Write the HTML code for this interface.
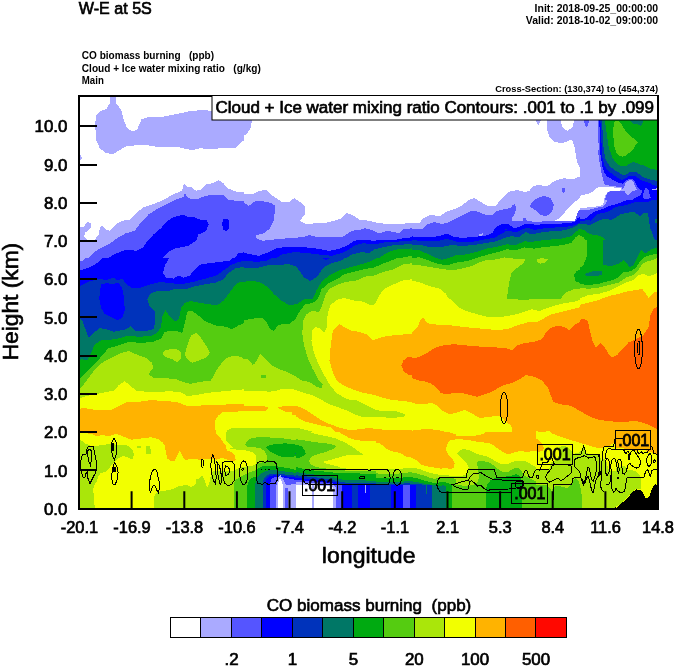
<!DOCTYPE html>
<html lang="en">
<head>
<meta charset="utf-8">
<title>W-E at 5S - CO biomass burning cross-section</title>
<style>
html,body{margin:0;padding:0;background:#fff;}
body{width:674px;height:667px;overflow:hidden;}
svg{display:block;}
text{font-family:"Liberation Sans",Arial,Helvetica,sans-serif;fill:#000;}
.t16{font-size:15.8px;stroke:#000;stroke-width:.65px;}
.t21{font-size:22.3px;stroke:#000;stroke-width:.6px;}
.sm{font-size:10.3px;font-weight:bold;}
.xs{font-size:9.3px;font-weight:bold;}
.tk{stroke:#000;stroke-width:2;fill:none;}
.lab{font-size:16px;stroke:#000;stroke-width:.8px;}
</style>
</head>
<body>
<svg width="674" height="667" viewBox="0 0 674 667">
<rect x="0" y="0" width="674" height="667" fill="#fff"/>
<defs>
<!--DEFS-->
</defs>
<clipPath id="plotclip"><rect x="79" y="96" width="579" height="413"/></clipPath>
<g id="fill" clip-path="url(#plotclip)">
<clipPath id="c0"><rect x="76" y="92" width="168" height="166"/></clipPath>
<clipPath id="c1"><rect x="244" y="92" width="168" height="166"/></clipPath>
<clipPath id="c2"><rect x="412" y="92" width="168" height="166"/></clipPath>
<clipPath id="c3"><rect x="580" y="92" width="80" height="68"/></clipPath>
<clipPath id="c4"><rect x="580" y="160" width="80" height="80"/></clipPath>
<clipPath id="c5"><rect x="590" y="150" width="70" height="50"/></clipPath>
<clipPath id="c6"><rect x="76" y="258" width="168" height="166"/></clipPath>
<clipPath id="c7"><rect x="244" y="258" width="168" height="166"/></clipPath>
<clipPath id="c8"><rect x="412" y="258" width="168" height="166"/></clipPath>
<clipPath id="c9"><rect x="412" y="230" width="168" height="69"/></clipPath>
<clipPath id="c10"><rect x="580" y="240" width="80" height="166"/></clipPath>
<clipPath id="c11"><rect x="244" y="424" width="168" height="86"/></clipPath>
<clipPath id="c12"><rect x="412" y="424" width="168" height="86"/></clipPath>
<clipPath id="c13"><rect x="580" y="406" width="80" height="26"/></clipPath>
<clipPath id="c14"><rect x="244" y="400" width="168" height="50"/></clipPath>
<clipPath id="c15"><rect x="76" y="412" width="110" height="98"/></clipPath>
<clipPath id="c16"><rect x="186" y="412" width="110" height="98"/></clipPath>
<clipPath id="c17"><rect x="226" y="432" width="70" height="78"/></clipPath>
<clipPath id="c18"><rect x="296" y="432" width="80" height="78"/></clipPath>
<clipPath id="c19"><rect x="376" y="432" width="80" height="78"/></clipPath>
<clipPath id="c20"><rect x="456" y="432" width="80" height="78"/></clipPath>
<clipPath id="c21"><rect x="536" y="432" width="80" height="78"/></clipPath>
<clipPath id="c22"><rect x="616" y="432" width="44" height="78"/></clipPath>
<clipPath id="c23"><rect x="196" y="448" width="60" height="61"/></clipPath>
<g clip-path="url(#c0)" shape-rendering="crispEdges">
<rect x="76" y="92" width="168" height="166" fill="#ffffff"/>
<polygon fill="#aaaaff" points="109.8,95.8 109.8,103.2 106.5,109 99.8,111.5 96,115.8 95.2,124.5 96,139.5 99.8,148.2 106,153.2 113.5,154 119.8,150 126,146.5 136,145.2 146,145 161,147.5 176,146.5 186,149 192.2,150 201,148.2 208.5,149.5 221,148.2 236,147.5 246,138.2 246,107 212.2,107 212.2,110.8 201,110 188.5,111.5 176,114 161,117 148.5,117 141.5,119.5 137.2,129.5 133,131.5 127.2,128.2 123.5,119.5 121,109.5 116,103.2 116,95.8"/>
<polygon fill="#aaaaff" points="79,154.5 81,155.8 82.2,158.2 80.5,160.2 79,161"/>
<polygon fill="#aaaaff" points="76,228.2 83.5,227 87.2,222 90.5,223.2 90.5,228.2 85.5,232.5 84,237 87.2,240 94.8,239.5 99,234.5 99.8,228.2 102.2,225.8 106,229.5 109.8,230.8 117.2,223.2 122.2,220.8 129.8,219.5 137.2,212 143.5,207.5 148.5,205.8 158.5,202 168.5,197 176,193.2 182.2,190.8 184,183.2 187.2,186.5 191,187 196,190.8 201,189.5 206,184.5 212.2,183.2 218.5,180 223.5,183.2 227.2,188.2 236,191.5 246,192 246,267 76,267"/>
<polygon fill="#5555ff" points="87.2,259.5 96,250.8 101,248.2 108.5,244.5 117.2,238.2 126,233.2 134.8,230.8 141,222 148.5,214.5 158.5,208.2 168.5,203.2 176,199.5 183.5,197 184.8,193.2 188.5,198.2 196,199.5 206,195.8 216,194.5 223.5,195 228.5,199.5 236,200.8 246,201.5 246,267 76,267"/>
<polygon fill="#0000ff" points="106,259.5 113.5,254.5 126,249.5 136,250.8 143.5,247 148.5,239.5 153.5,234.5 161,228.2 166,222 173.5,217 183.5,214.5 187.2,216.5 193.5,217 201,220 206,219.5 208.5,224.5 206,230.8 198.5,234.5 196,240.8 188.5,245.8 176,248.2 168.5,252 161,259.5"/>
<polygon fill="#0000ff" points="223,219.5 228,218.5 229.2,222 229,229 226,231.2 223,229.5 222.2,223.2"/>
<polygon fill="#0000ff" points="233.5,259.5 238.5,253.2 246,252 246,259.5"/>
</g>
<g clip-path="url(#c1)" shape-rendering="crispEdges">
<rect x="244" y="92" width="168" height="166" fill="#ffffff"/>
<polygon fill="#aaaaff" points="241.5,138.2 247,133.2 250.2,129.5 252,120.2 241.5,120.2"/>
<polygon fill="#aaaaff" points="241.5,194 251.5,194.5 259,190.8 266.5,190 270.2,194 276.5,198.2 281.5,202 290.2,201.5 294,198.2 300.2,202 304.5,205.8 304.5,214.5 300.2,220.8 304,223.2 310.2,224.5 316.5,222.5 324,223.2 334,220.8 341.5,218.2 346.5,212.8 354,215.8 359,219.5 369,220.8 379,223.2 389,224 399,224.5 406.5,223.2 414,222.5 414,267 241.5,267"/>
<polygon fill="#5555ff" points="241.5,201.5 249,205.8 255.2,201.2 262.8,201.2 271.5,203.2 275.2,205.8 274,219.5 270.2,228.2 264,233.2 256.5,235 256,238.2 262.8,240.8 274,239.5 289,238.2 304,237 309,235 316.5,237 329,237.5 341.5,237 346.5,234.5 351.5,230.8 359,230 365.2,228.2 371.5,230 379,233.2 387.8,230.8 394,232 399,233.2 404,229 414,228.2 414,267 241.5,267"/>
<polygon fill="#0000ff" points="241.5,252.5 259,255.8 269,252 276.5,248.2 289,246.5 301.5,247 314,248.2 329,250.8 339,249 349,244.5 354,240.8 361.5,239.5 374,240.8 384,239.5 394,240 404,238.2 414,237 414,267 241.5,267"/>
<polygon fill="#0033bb" points="274,259.5 281.5,254.5 294,252 309,253.2 319,254.5 331.5,255.8 341.5,253.2 349,249.5 355.2,245 364,243.2 374,244.5 386.5,242 399,241.5 414,240.8 414,267"/>
<polygon fill="#007766" points="344,259.5 351.5,254.5 361.5,252 369,253.2 374,249.5 384,247 394,245 404,244.5 414,243.2 414,267"/>
<polygon fill="#00aa11" points="376.5,259.5 384,254.5 391.5,250.8 399,249 406.5,249 414,248.2 414,267"/>
<polygon fill="#55cc11" points="400.2,259.5 404,257 414,255.8 414,267"/>
</g>
<g clip-path="url(#c2)" shape-rendering="crispEdges">
<rect x="412" y="92" width="168" height="166" fill="#ffffff"/>
<polygon fill="#aaaaff" points="535.8,120.2 540.8,120.2 538.2,125.8"/>
<polygon fill="#aaaaff" points="546.5,120.2 547,129.5 549.5,137 554.5,142 562,143.2 572,139.5 574.5,147 577,162 582,172.5 582,120.2 574.5,120.2 572,128.2 567,130.8 562,127 560.8,120.2"/>
<polygon fill="#aaaaff" points="409.5,222.5 419.5,223.2 423.2,218.2 430.8,214.5 439.5,216.5 445.8,212 453.2,209.5 462,205.8 468.2,200 474.5,198.2 480.8,202 487,205.8 495.8,205.8 502,198.2 508.2,192 517,190 524.5,192 529.5,190.8 533.2,185.8 539.5,185 547,186.5 554.5,180.8 564.5,178.2 572,179.5 582,175.8 582,267 409.5,267"/>
<polygon fill="#ffffff" points="550.8,222.2 559.8,218.2 567.2,209.5 574.8,202 582,196 582,208.2 578.5,210.8 576,217 574.8,222.2"/>
<polygon fill="#5555ff" points="409.5,228.5 422,229.5 427,224.5 434.5,222 442,224 449.5,222 457,218.2 464.5,214.5 470.8,210.8 477,211.5 484.5,214.5 492,215 496.5,211.2 503,209.5 511.2,208 512.8,204.8 515.2,203.8 516,209.5 514.5,214.5 512,217.8 512,221 522.8,221 523.5,217.5 526,217.8 526.8,221 535.8,221.8 548.8,221.2 574.8,221.2 576,217 578.5,210.8 582,208.2 582,267 409.5,267"/>
<polygon fill="#5555ff" points="530.8,203.2 537,198.2 544.5,195.8 550.8,198.2 554,204.5 552,212 545.8,216.5 539.5,214.5 534.5,209.5 530,207"/>
<polygon fill="#5555ff" points="561.5,187.5 564.5,187.5 565.2,190.8 563.2,193.2 561.5,190.8"/>
<polygon fill="#0000ff" points="409.5,237 427,238.2 439.5,237 447,234.5 453.2,237 462,237.5 474.5,236.5 487,236.5 491.5,233.2 494,229.5 497,226.5 503,223.8 508,224.2 514.5,228.2 519.5,226.8 524.2,224.2 529.2,223.5 535.8,225 542.2,224.2 552,223.5 561.8,223.5 571.5,222.8 575.8,221.2 577.5,218.2 582,215.8 582,267 409.5,267"/>
<polygon fill="#0033bb" points="409.5,241.5 424.5,242.5 437,242 449.5,239.5 462,242 474.5,241.5 484.5,240.8 492,239.5 495.8,234 499.8,230.8 506.2,229.2 512.8,231.5 517.8,232.5 522.8,229.2 527.5,227.5 534,230 539,229.2 547.2,227.8 555.2,227.5 563.5,227.2 571.5,226 578.2,223.5 583,222 582,267 409.5,267"/>
<polygon fill="#aaaaff" points="479,235 483.2,234.5 483.2,236.5 479.5,236.8"/>
<polygon fill="#007766" points="409.5,244.5 427,245.8 442,247 457,243.2 469.5,244.5 482,243.2 494.5,242 504.5,238.2 512,235.8 519.5,237 527,233.2 537,234.5 547,232 557,230.8 567,229.5 574.5,227 582,222 582,267 409.5,267"/>
<polygon fill="#00aa11" points="409.5,249 424.5,249 437,248.2 449.5,249 462,247.5 474.5,248.2 487,246.5 497,245 507,242 517,243.2 527,239.5 537,240.8 547,239 557,238.2 567,235.8 574.5,232 582,227 582,267 409.5,267"/>
<polygon fill="#55cc11" points="409.5,255.8 424.5,254.5 437,252 449.5,252.5 462,252 474.5,253.2 487,251.5 499.5,249.5 512,247.5 524.5,245 537,245.8 549.5,244 562,243.2 572,240.8 577,234.5 582,230.8 582,267 409.5,267"/>
<polygon fill="#aae60a" points="469.5,259.5 482,257 494.5,256.5 504.5,257.5 512,259.5"/>
</g>
<g clip-path="url(#c3)" shape-rendering="crispEdges">
<rect x="580" y="92" width="80" height="68" fill="#aaaaff"/>
<polygon fill="#ffffff" points="575.9,120.2 573,126.1 568.5,129.1 568.5,120.2"/>
<polygon fill="#ffffff" points="568.5,143.9 573,146.9 575.2,154.3 576.7,163.2 578.9,172.9 568.5,172.9"/>
<polygon fill="#5555ff" points="584.1,120.2 589.3,120.2 587.8,125.4 586.3,127.6 584.8,124.6"/>
<polygon fill="#5555ff" points="598.2,120.2 598.2,136.5 598.9,151.3 599.7,163.2 601.2,172.9 673.9,172.9 673.9,120.2"/>
<polygon fill="#0000ff" points="599.4,120.2 599.7,136.5 600.4,151.3 601.5,163.2 603.4,172.9 673.9,172.9 673.9,120.2"/>
<polygon fill="#0033bb" points="600.4,120.2 601.2,136.5 601.9,151.3 603.4,161.7 606.4,169.2 608.6,172.9 673.9,172.9 673.9,120.2"/>
<polygon fill="#007766" points="601.9,120.2 602.9,136.5 603.8,151.3 605.6,158.8 609.3,166.2 613,170.6 614.5,172.9 673.9,172.9 673.9,120.2"/>
<polygon fill="#00aa11" points="604.9,120.2 607.1,136.5 608.9,148.4 610.8,155.8 613.8,161.7 617.5,165.4 621.9,166.2 626.4,164.7 630.8,162.5 635.3,161.7 639.7,163.2 644.2,165.4 650.1,167.7 653.1,169.2 673.9,168.4 673.9,120.2"/>
<polygon fill="#007766" points="630.1,120.2 633.8,123.9 638.2,124.3 640.5,126.4 642,123.9 643.4,120.2"/>
<polygon fill="#55cc11" points="614.5,121.7 617.5,120.9 620.4,122.4 623.4,127.6 626.4,132.1 629.3,135 633.8,138.7 638,142.4 635.3,145.4 632.3,151.3 628.6,155.1 623.4,157 619,156.5 616,152.8 614.5,146.9 613.3,136.5 613.3,127.6"/>
</g>
<g clip-path="url(#c4)" shape-rendering="crispEdges">
<rect x="580" y="160" width="80" height="80" fill="#aaaaff"/>
<polygon fill="#ffffff" points="560,160 576.3,160 577.8,167.4 580,173.4 576.3,177.1 571.9,179 565.9,178.5 560,177.1"/>
<polygon fill="#ffffff" points="560,215.6 563,211.9 567.4,209 568.9,203.8 573.4,199.3 577.8,196.4 583.7,194.9 589.7,193.4 594.1,189.7 597.8,187.2 603,186.7 609,187.4 616.4,188.2 622.3,188.9 619.3,191.2 611.9,191.5 607.5,191.9 605.3,194.9 604.5,200.1 603,204.5 600.1,206 594.1,206.7 586.7,207.5 577.8,207.5 576.3,211.9 575.6,216.4 574.8,220.8 560,221.1"/>
<polygon fill="#5555ff" points="599.3,158.5 600.1,165.9 601.5,171.9 603,177.8 603.8,184.5 609,187.4 622.3,188.9 619.3,191.2 611.9,191.5 609.7,191.9 608.2,197.1 606.3,203 603.8,206.3 597.1,207.8 589.7,209.7 577.8,210.4 576.3,216.4 575.6,221.1 560,221.4 560,249 663.9,249 663.9,158.5"/>
<polygon fill="#aaaaff" points="622.3,188.9 625.3,182.3 629,180.8 632.7,181.1 634.2,184.5 637.2,188.9 632.7,190.4 630.5,193.4 627.5,195.9 625.3,191.9 619.3,191.5"/>
<polygon fill="#0000ff" points="601.5,158.5 603,165.9 604.5,171.9 607.5,176.3 613.4,180.8 619.3,184.5 623.8,184.5 626,180.8 631.2,179 634.9,180.8 637.2,184.5 640.9,188.9 643.1,188.2 645.3,186.7 649,188.9 652.7,188.2 657.2,187.4 663.9,187.4 663.9,158.5"/>
<polygon fill="#0000ff" points="663.9,191.9 652,191.9 650.8,197.1 647.5,199.3 643.1,198.6 641.6,193.4 638.6,191.9 634.2,194.9 631.2,198.6 625.3,200.8 619.3,203 614.9,204.5 609,206 603,209 595.6,211.2 589.7,214.9 586.7,217.9 583.7,219.3 579.3,218.6 577.1,221.1 560,222.3 560,249 663.9,249"/>
<polygon fill="#5555ff" points="642.3,191.9 644.6,188.2 647.5,188.2 649.8,192.6 650.5,197.1 647.5,198.9 643.8,198.3 642.3,195.6"/>
<polygon fill="#aaaaff" points="652,188.9 657.2,188.2 657.2,190.4 653.5,190.4"/>
<polygon fill="#0033bb" points="603.8,158.5 606,164.5 609,168.9 614.9,172.6 620.8,176.3 625.3,176.3 629.7,174.1 634.2,172.6 638.6,174.1 643.1,177.8 649,182.3 655,183.7 657.9,182.3 663.9,182.3 663.9,158.5"/>
<polygon fill="#0033bb" points="663.9,199.3 652,200.1 647.5,202.3 641.6,201.5 634.2,202.3 628.2,204.5 622.3,206 616.4,206.7 610.4,210.4 604.5,212.7 597.1,214.2 593.4,217.9 590.4,220.8 588.2,219.3 583.7,220.8 579.3,221.6 574.8,223.1 567.4,223.8 560,224.5 560,249 663.9,249"/>
<polygon fill="#007766" points="606,158.5 609,163 614.9,167.4 620.8,171.1 625.3,173.4 629.7,171.1 634.2,168.9 640.1,170.4 644.6,173.4 650.5,177.1 655,178.5 657.9,177.8 663.9,177.8 663.9,158.5"/>
<polygon fill="#007766" points="560,228.2 567.4,227.5 573.4,226 577.8,223.8 583.7,223.8 589.7,225.3 595.6,222.3 600.1,220.1 606,218.6 610.4,220.1 614.9,217.9 620.8,214.2 626.8,212.7 634.2,211.9 640.1,216.4 643.1,213.4 647.5,212.7 649,219.3 649.8,226.8 652.7,234.2 655,240.9 560,240.9"/>
<polygon fill="#007766" points="655,219.1 656.7,218.6 656.7,223.1 655,222.6"/>
<polygon fill="#00aa11" points="612.7,158.5 616.4,162.2 620.8,165.9 625.3,166.7 629.7,164.5 634.2,162.2 640.1,163.7 646.1,166.7 652,168.9 657.9,168.2 663.9,168.2 663.9,158.5"/>
<polygon fill="#00aa11" points="568.9,240.9 571.9,235.7 574.8,231.2 579.3,229 583.7,229.7 586.7,232.7 592.6,234.9 600.1,235.7 604.5,238.6 606,240.9"/>
<polygon fill="#55cc11" points="574.8,240.9 576.3,237.2 580.8,235.7 583.7,237.2 585.2,240.9"/>
</g>
<g clip-path="url(#c5)" shape-rendering="crispEdges">
<rect x="590" y="150" width="70" height="50" fill="#aaaaff"/>
<polygon fill="#ffffff" points="589,192.8 593.1,192.1 595.2,188.9 598.3,187.4 603.5,186.9 610.8,187.2 618,187.9 622.2,188.9 620.1,190.5 616,191.3 610.8,191 607.7,192.1 605.6,194.7 604.5,197.8 604,200.9 589,200.9"/>
<polygon fill="#5555ff" points="597.8,149 598.3,154.2 599.3,160.4 600.4,166.6 601.4,172.8 603,179.1 604,183.7 606.6,185.3 611.8,185.8 617,186.6 622.2,187.6 622.2,188.9 620.1,190.5 616,191.3 610.8,191 607.7,192.1 605.6,194.7 604.5,197.8 604,200.9 662.7,200.9 662.7,149"/>
<polygon fill="#aaaaff" points="624.3,186.9 625.8,182.2 627.9,180.6 631.5,180.1 633.1,181.2 634.1,184.3 635.7,187.4 637.2,189.5 634.7,190.5 631.5,191.5 629.5,193.6 627.9,195.7 626.3,194.1 624.8,191.5 622.7,190.7 620.1,190.7 616,191.5 610.8,191.2 608.2,192.4 606.6,194.7 605.6,197.8 605.1,200.9 604,200.9 604.5,197.8 605.6,194.7 607.7,192.1 610.8,191 616,191.3 620.1,190.5 622.2,188.9 623.2,187.9"/>
<polygon fill="#0000ff" points="599.9,149 600.4,154.2 601.4,160.4 602.5,166.6 604,172.3 606.6,176 610.8,178.6 614.9,181.2 619.1,183.2 623.2,183.7 625.3,181.2 627.4,179.6 631.5,178.9 634.1,180.1 635.7,183.2 637.2,186.3 639.3,188.9 641.4,190 641.9,191.5 640.9,194.7 637.8,196.7 633.6,198.8 631.5,200.9 662.7,200.9 662.7,149"/>
<polygon fill="#5555ff" points="643,197.8 643.5,192.6 645,188.4 647.1,187.9 648.7,190.5 649.7,194.7 650.7,197.8 648.2,198.8 645,198.8"/>
<polygon fill="#aaaaff" points="652.3,189.3 656.5,188.4 657,190 653.3,190.5"/>
<polygon fill="#0033bb" points="601.4,149 601.9,154.2 603,160.4 604.5,165.6 607.1,169.7 610.8,172.8 614.9,176 619.1,178.6 622.2,180.1 625.3,178.6 628.4,176.5 632.6,175.8 635.7,176.5 638.8,178.6 641.9,180.6 646.1,181.7 650.2,183.2 653.3,185.3 656.5,185.8 662.7,185.8 662.7,149"/>
<polygon fill="#007766" points="604,149 604.5,154.2 605.6,159.3 607.7,163.5 610.8,167.1 614.9,170.2 619.1,172.8 623.2,175.4 626.3,174.4 629.5,172.3 633.6,171.6 636.7,172.3 639.8,174.4 643,177 647.1,178.6 651.3,180.1 655.4,180.6 662.7,180.1 662.7,149"/>
<polygon fill="#00aa11" points="609.7,149 610.8,153.1 612.3,157.3 614.9,161.4 618,164.5 621.2,166.1 624.3,166.6 627.4,165.1 630.5,163 633.6,161.9 636.7,163 639.8,164.5 644,165.6 648.2,167.7 652.3,169.2 656.5,169.7 662.7,169.2 662.7,149"/>
<polygon fill="#55cc11" points="614.9,149 616.5,152.6 619.1,155.7 622.2,156.7 625.3,155.7 628.4,153.6 631.5,151 633.1,149"/>
</g>
<g clip-path="url(#c6)" shape-rendering="crispEdges">
<rect x="76" y="258" width="168" height="166" fill="#0000ff"/>
<polygon fill="#5555ff" points="76,256.8 103.5,256.8 97.2,263 91,266.8 86,268.5 79,271 76,271.8"/>
<polygon fill="#aaaaff" points="76,256.8 86.5,256.8 83.5,260.5 79,261.5 76,261.5"/>
<polygon fill="#5555ff" points="169.8,256.8 164.8,265.5 163,273 166,277.5 173.5,278.5 178.5,275.5 183.5,277.5 189.8,275.5 194.8,269.2 201,264.2 211,263 221,261.8 229.8,260.5 233.5,256.8"/>
<polygon fill="#0033bb" points="73.5,289.2 81,285.5 88.5,281.8 97.2,279.2 101,278.5 104.8,280.5 108.5,279.2 113.5,277.5 117.2,280.5 122.2,278.5 126,284.2 132.2,288 141,287.5 151,284.2 161,281.8 168.5,283 181,284.2 193.5,281.8 206,278.5 216,275.5 223.5,270.5 231,265 238.5,261.8 246,261 246,433 73.5,433"/>
<polygon fill="#0000ff" points="101,284.2 107.2,283 111,284.2 118.5,283 122.2,288 124,298 124.8,310.5 122.2,318 117.2,320.5 111,316.8 104.8,314.2 101,308 99.2,298"/>
<polygon fill="#007766" points="73.5,315.5 79,318 82.2,320.5 86,330.5 88.5,337.5 93.5,333 99.8,328 106,329.2 113.5,331.8 126,329.2 131,326 134.8,330.5 146,331 153.5,329.2 155.5,320.5 154.8,311.8 149.8,306.8 147.2,299.2 151,293 158.5,290.5 168.5,291 176,288.5 186,289.2 196,286 206,284.2 216,282.5 223.5,279.2 228.5,273 236,268 246,266.8 246,433 73.5,433"/>
<polygon fill="#00aa11" points="73.5,363 82.2,359.2 87.2,360.5 91,353 94.8,344.2 101,340.5 108.5,340 118.5,338.5 128.5,335.5 138.5,336.8 151,336 157.2,333 161,326.8 162.2,316.8 165.5,310 169.8,316.8 174.8,321.8 179,319.2 181,308 184.8,303 189.8,301 198.5,302.5 208.5,304.2 217.2,305.5 223.5,300.5 231,290.5 237.2,283 246,281 246,433 73.5,433"/>
<polygon fill="#55cc11" points="73.5,380.5 81,378 87.2,371.8 93.5,365.5 101,356.8 108.5,348 118.5,345.5 128.5,341.8 141,343 153.5,341.8 161,338.5 164.8,331.8 174.8,330.5 182.2,333 185.5,320.5 187.2,311.8 191.5,310.5 198.5,315.5 206,321.8 216,325.5 226,326.8 232.2,329.2 238.5,325.5 246,321.8 246,433 73.5,433"/>
<polygon fill="#aae60a" points="73.5,390.5 81,388 88.5,378 96,368 103.5,361.8 111,358 121,353 128.5,351 136,354.2 146,358 152.2,363 153,368 148.5,374.2 153.5,377.5 163.5,378 176,379.2 186,383 191,383.8 201,381.8 211,380.5 214.8,373 219.8,365.5 226,358 233.5,355.5 241,356.8 246,360.5 246,433 73.5,433"/>
<polygon fill="#aae60a" points="162.2,353 166,350 174.8,348.5 181,351.8 181,358 177.2,362.5 172.2,359.2 164.8,356.8"/>
<polygon fill="#aae60a" points="184.8,354.2 187.2,345.5 191,335.5 196,333 201,338 206,345.5 209.8,353 206,357.5 198.5,360.5 192.2,363 187.2,359.2"/>
<polygon fill="#f2ff00" points="73.5,400.5 83.5,396.8 91,395 101,393 113.5,390.5 118.5,385.5 124.8,381 129.8,385.5 136,390.5 146,391.8 158.5,391.8 171,391.2 181,392.5 187.2,396 196,395 206,393 218.5,391.8 231,390.5 246,389.2 246,433 73.5,433"/>
<polygon fill="#ffb300" points="73.5,410 83.5,408 91,409.2 101,410.5 111,410 119.8,405.5 126,402.5 138.5,401.8 151,400 163.5,401 176,401.8 186,405.5 196,406 206,405 218.5,405 231,404.2 246,403.5 246,433 73.5,433"/>
<polygon fill="#f2ff00" points="216,425.5 218.5,418 223.5,414.2 231,412.5 246,410.5 246,425.5"/>
</g>
<g clip-path="url(#c7)" shape-rendering="crispEdges">
<rect x="244" y="258" width="168" height="166" fill="#0033bb"/>
<polygon fill="#0000ff" points="241.5,256.8 274,256.8 266.5,261 256.5,261.8 241.5,260.5"/>
<polygon fill="#0000ff" points="319,256.8 331.5,256.8 326.5,260"/>
<polygon fill="#007766" points="241.5,267.5 256.5,268 266.5,265.5 276.5,265 289,264.2 296.5,266.8 300.2,271.8 304,277.5 310.2,281 315.2,278 319,274.2 324,266.8 331.5,263 341.5,260.5 346.5,256.8 414,256.8 414,433 241.5,433"/>
<polygon fill="#00aa11" points="241.5,281.8 254,281 261.5,283 269,288 274,294.2 281.5,300.5 289,305 296.5,304.2 304,299.2 312.8,298.5 316.5,290.5 321.5,281.8 329,275.5 339,270.5 349,267.5 361.5,264.2 371.5,261 379,256.8 414,256.8 414,433 241.5,433"/>
<polygon fill="#55cc11" points="241.5,320.5 254,318.5 261.5,317.5 266.5,322.5 270.2,329.2 274,331 277.8,325.5 284,323.5 290.2,323.5 295.2,319.2 300.2,310.5 305.2,304.2 312.8,303 317.8,299.2 321.5,289.2 329,283 339,278 344,274.2 354,271.8 364,269.2 374,267.5 381.5,264.2 391.5,260.5 399,256.8 414,256.8 414,433 241.5,433"/>
<polygon fill="#aae60a" points="414,263 404,264.2 394,269.2 384,271.8 374,275.5 364,276.8 356.5,280.5 346.5,281.8 336.5,285 329,289.2 325.2,295.5 321.5,306.8 319,311.8 311.5,311 306.5,314.2 303.5,320.5 302.2,333 304,345.5 307.8,358 312.8,369.2 319,380.5 322.8,384.2 321.5,388 316.5,386.8 309,381.8 301.5,380.5 294,375.5 286.5,371.8 279,369.2 271.5,365.5 265.2,359.2 260.2,354.2 255.2,363 252.8,365 247.8,359.2 241.5,358 241.5,433 414,433"/>
<polygon fill="#55cc11" points="261,375 266,375 266,377.5 261,377.5"/>
<polygon fill="#f2ff00" points="414,279.2 404,280 394,284.2 384,289.2 379,295.5 375.2,304.2 371.5,305.5 364,301.8 354,300.5 344,298 336.5,300 330.2,305.5 327.8,313 326.5,328 324,333 319,328 315.2,326.8 312,330.5 311.5,340.5 314,353 319,365.5 325.2,376.8 330.2,385.5 336.5,393 344,397.5 354,401.8 364,405 374,407.5 384,409.2 394,411 404,414.2 414,413"/>
<polygon fill="#f2ff00" points="241.5,391 251.5,390.5 259,390.5 269,391.8 276.5,390.5 284,388.5 291.5,388.8 301.5,392 311.5,395 321.5,399.5 331.5,405 341.5,408 351.5,411.8 361.5,415 369,416.8 379,417.5 389,418 396.5,418.5 404,417.5 407.8,415.5 414,415.5 414,433 241.5,433"/>
<polygon fill="#ffb300" points="332.8,330.5 339,324.2 344,326.8 351.5,330.5 359,331.8 366.5,334.2 372.8,340.5 379,338 386.5,336 396.5,335 406.5,334.2 414,334.2 414,403 404,401.8 394,400.5 384,398 374,395 364,393 354,390 344,385.5 337.8,381.8 334,375.5 331.5,368 329.5,360.5 330.2,350.5 331.5,340.5"/>
<polygon fill="#ff5f00" points="414,356.8 407.8,356.8 403.5,360.5 401.5,365.5 404,371.8 409,375 414,375.5"/>
<polygon fill="#ffb300" points="241.5,405.5 254,406 264,406.8 269,408 266.5,410 256.5,410.5 241.5,411"/>
<polygon fill="#ffb300" points="277.8,408 284,406 294,405 304,407.5 311.5,413 319,416.8 326.5,420.5 331.5,423 334,425.5 306.5,425.5 301.5,420.5 294,415.5 286.5,411.8 280.2,410.5"/>
</g>
<g clip-path="url(#c8)" shape-rendering="crispEdges">
<rect x="412" y="258" width="168" height="166" fill="#aae60a"/>
<polygon fill="#55cc11" points="510.8,269.2 508.2,283 507,290.5 508.2,295.5 514.5,299.2 524.5,300 537,298.5 549.5,299.2 562,298 567,293 572,290.5 582,288 582,256.8 524.5,256.8 517,265.5"/>
<polygon fill="#f2ff00" points="409.5,280 419.5,281.8 427,285.5 437,289.2 445.8,294.2 452,300.5 458.2,306.8 465.8,311 477,314.2 487,316.8 497,317.5 507,316 517,314.2 524.5,311.8 532,309.2 539.5,311 547,308 554.5,305.5 564.5,303 574.5,301.8 582,299.2 582,433 409.5,433"/>
<polygon fill="#ffb300" points="409.5,334.2 417,328 420.8,319.2 423.2,317.5 427,323 432,324.2 442,325 452,325.5 462,326.8 474.5,328 487,329.2 497,330 507,329.2 517,325.5 527,322.5 537,321.8 544.5,318 552,314.2 562,311.8 572,309.2 582,306.8 582,433 409.5,433"/>
<polygon fill="#ff5f00" points="409.5,359.2 419.5,356.8 427,353 434.5,348 444.5,345 454.5,344.2 467,345.5 482,346.8 497,347.5 507,348.5 512,350 517,345.5 524.5,343 534.5,341.8 542,339.2 545.8,333 550.8,328 557,326 564.5,326.8 569.5,330.5 575.8,324.2 582,320.5 582,413 577,409.2 569.5,405.5 559.5,404.2 553.2,401.8 550.8,395.5 548.2,388 542,380.5 534.5,376.8 525.8,375 519.5,379.2 512,383 504.5,385 498.2,388 492,391.8 484.5,394.2 477,396.8 469.5,395 462,393 454.5,393 447,394.2 440.8,393 437,388 432,384.2 427,381.8 419.5,380.5 409.5,377.5"/>
<polygon fill="#f2ff00" points="409.5,403 422,404.2 432,403 437,405.5 442,410.5 449.5,414.2 457,412.5 464.5,410 472,413.5 479.5,418 489.5,416.8 500,415.5 504.5,420.5 509.5,425.5 409.5,425.5"/>
</g>
<g clip-path="url(#c9)" shape-rendering="crispEdges">
<rect x="412" y="230" width="168" height="69" fill="#5555ff"/>
<polygon fill="#0000ff" points="409.5,236.2 422,237.4 431.9,236.9 439.4,236.2 446.9,233.7 454.4,236.9 461.9,237.9 474.3,236.9 486.8,235.4 493,232.4 495.5,226.2 504.2,223 511.7,225.5 516.7,227.5 524.2,223.7 529.1,222 536.6,222.5 551.6,222 574,222 581.5,220 581.5,314.7 409.5,314.7"/>
<polygon fill="#aaaaff" points="478.8,233.9 483,233.4 483,235.4 479.3,235.7"/>
<polygon fill="#0033bb" points="409.5,239.9 424.5,241.2 436.9,241.2 446.9,238.7 456.9,241.9 469.3,242.4 481.8,239.9 494.3,237.9 501.7,233.7 506.7,230.5 516.7,232.4 524.2,228 531.6,229.5 541.6,227.5 551.6,226.2 561.6,225.5 571.5,225 581.5,221.2 581.5,314.7 409.5,314.7"/>
<polygon fill="#007766" points="409.5,244.4 422,245.4 431.9,247.4 441.9,246.9 451.9,244.9 461.9,246.2 474.3,244.9 486.8,242.9 496.7,241.2 504.2,237.9 511.7,236.2 519.2,237.4 525.4,231.9 531.6,234.4 541.6,232.4 551.6,231.2 561.6,230.5 571.5,228.7 581.5,223.7 581.5,314.7 409.5,314.7"/>
<polygon fill="#00aa11" points="409.5,249.9 419.5,250.4 427,253.6 434.4,257.4 441.9,259.9 449.4,257.9 456.9,254.9 466.8,254.4 476.8,251.9 486.8,248.6 496.7,246.9 506.7,244.4 516.7,244.9 524.2,241.2 531.6,241.9 541.6,240.4 551.6,239.4 561.6,238.7 571.5,236.2 576.5,231.2 581.5,228.7 581.5,314.7 409.5,314.7"/>
<polygon fill="#55cc11" points="409.5,257.9 419.5,257.4 427,259.9 436.9,263.6 446.9,265.3 456.9,262.4 466.8,261.1 476.8,257.9 486.8,254.9 496.7,252.4 506.7,249.4 516.7,249.9 524.2,247.4 534.1,248.6 544.1,246.9 554.1,246.2 564,244.9 571.5,242.9 575.3,237.4 581.5,233.7 581.5,314.7 409.5,314.7"/>
<polygon fill="#aae60a" points="409.5,264.9 419.5,265.3 429.4,266.8 439.4,268.6 451.9,270.3 461.9,268.6 471.8,266.1 479.3,262.4 486.8,259.9 496.7,259.4 504.2,257.4 514.2,258.6 525.4,259.4 522.9,263.6 517.9,267.3 511.7,272.3 509.7,279.8 508,289.8 506.7,301 409.5,301"/>
<polygon fill="#aae60a" points="536.6,259.4 541.6,257.9 547.8,259.4 545.3,262.4 540.4,263.6 537.1,261.9"/>
<polygon fill="#aae60a" points="581.5,288.5 574,289.3 566.5,292.3 561.6,297.3 560.3,301 581.5,301"/>
<polygon fill="#00aa11" points="581.5,268.6 576.5,271.1 574,274.8 575.3,281.1 581.5,283.5"/>
<polygon fill="#f2ff00" points="409.5,280.3 419.5,282.3 429.4,286 439.4,288.5 445.6,293.5 449.4,299.7 409.5,299.7"/>
</g>
<g clip-path="url(#c10)" shape-rendering="crispEdges">
<rect x="580" y="240" width="80" height="166" fill="#00aa11"/>
<polygon fill="#007766" points="603.5,237.5 603,252.5 603.5,265 611,266.2 618.5,263.8 623.5,260 627.2,263.8 629.8,267.5 633.5,265 637.2,257.5 641,250 644.8,253.8 648.5,251.2 652.2,248.8 661,247.5 661,237.5"/>
<polygon fill="#007766" points="584.8,273.8 593.5,271.2 602.2,270.5 602.2,275 593.5,276.2 586,275.5"/>
<polygon fill="#55cc11" points="587.2,237.5 587.2,255 583.5,265 576,271.2 573.5,277.5 578.5,283.8 588.5,285 598.5,283.8 608.5,281.2 616,278.8 623.5,272.5 631,271.2 636,267.5 641,260 646,256.2 651,255 661,252.5 661,415 503.5,415 503.5,237.5"/>
<polygon fill="#aae60a" points="503.5,301.2 516,300 531,300 543.5,298.8 556,297 568.5,290 578.5,287.5 588.5,288.8 598.5,287.5 608.5,285 618.5,282.5 626,277.5 633.5,275 638.5,270 642.2,263.8 647.2,261.2 653.5,260 658,257.5 661,256.2 661,415 503.5,415"/>
<polygon fill="#f2ff00" points="503.5,317.5 516,315 523.5,311.2 531,309.5 541,311.2 548.5,307.5 558.5,303.8 568.5,302.5 578.5,298.8 588.5,295 598.5,293.8 608.5,291.2 618.5,286.2 626,282.5 633.5,280 638.5,275 643.5,273.8 648.5,276.2 653.5,275 661,271.2 661,415 503.5,415"/>
<polygon fill="#ffb300" points="503.5,330 513.5,326.2 521,322.5 531,321.2 541,320.5 548.5,315 556,311.2 568.5,307.5 578.5,305 588.5,302.5 598.5,300 608.5,296.2 618.5,293.8 628.5,291.2 636,290 642.2,288.8 646,293.8 648.5,297.5 653.5,292.5 661,291.2 661,415 503.5,415"/>
<polygon fill="#ff5f00" points="503.5,350 513.5,348.8 518.5,343.8 526,342 536,341.2 543.5,335 548.5,328.8 556,326.2 562.2,327 567.2,330.5 572.2,326.2 577.2,320.5 583.5,318.8 588,321.2 589.8,330 592.2,340 596,347.5 600.5,342.5 604.8,347.5 608.5,353.8 612.2,357.5 617.2,355 623.5,347.5 628.5,342.5 636,338.8 643.5,335 648.5,327.5 650.5,315 653.5,308.8 661,305.5 661,415 503.5,415"/>
<polygon fill="#ffb300" points="503.5,383.8 516,380 523.5,375 531,375 538.5,377.5 543.5,383.8 548.5,390 551,397.5 554.8,402.5 563.5,405 571,407.5 503.5,407.5"/>
</g>
<g clip-path="url(#c11)" shape-rendering="crispEdges">
<rect x="244" y="424" width="168" height="86" fill="#f2ff00"/>
<polygon fill="#ffb300" points="241.5,404.8 256.5,405.5 269,407.2 266.5,409.8 254,410.5 241.5,410.5"/>
<polygon fill="#ffb300" points="277.8,406.5 286.5,404.8 296.5,405.5 304,408.5 310.2,413 319,417.2 326.5,420.5 334,423.5 344,426 354,428 364,428.5 374,429 384,429.8 394,430.5 404,429.8 414,429.8 414,457.2 406.5,456 399,453.5 391.5,449.8 384,447.2 376.5,444.8 369,442.2 361.5,439.8 354,438 346.5,435.5 340.2,432.2 332.8,428.5 324,426 316.5,423 309,419.8 301.5,416.5 294,413 285.2,409.8 279,408.5"/>
<polygon fill="#aae60a" points="241.5,428.5 254,429.8 264,429 274,427.2 284,426.5 294,427.2 304,429.8 314,432.2 324,434.8 331.5,437.2 339,440.5 346.5,444.8 354,448.5 359,452.2 362.8,456 356.5,458.5 349,459.8 339,461 329,461.5 323.5,463 329,465.5 339,467.2 349,468.5 359,469.8 369,470.2 379,470.2 389,469.8 399,470.2 414,471 414,521 241.5,521"/>
</g>
<g clip-path="url(#c12)" shape-rendering="crispEdges">
<rect x="412" y="424" width="168" height="86" fill="#ffb300"/>
<polygon fill="#f2ff00" points="409.5,403.5 419.5,403 429.5,404 437,407.2 444.5,413 454.5,413 464.5,409.8 472,413 479.5,417.2 489.5,416.5 499.5,417.2 507,421 512,427.2 512,432.2 504.5,434 492,434.8 479.5,434 467,433.5 457,434 447,432.2 437,429.8 427,429 417,429.8 409.5,431"/>
<polygon fill="#f2ff00" points="409.5,458.5 419.5,459.8 429.5,463.5 439.5,468.5 449.5,469.8 453.2,463.5 449.5,456 446.5,449.8 448.2,443.5 454.5,441 464.5,441.5 474.5,442.2 484.5,443 494.5,444.8 502,448.5 509.5,453.5 517,452.2 524.5,451 532,448.5 538.2,444.8 542,441 537,436 535.8,431 542,432.2 548.2,431 557,433.5 567,434.8 574.5,434 582,434.8 582,521 409.5,521"/>
</g>
<g clip-path="url(#c13)" shape-rendering="crispEdges">
<rect x="580" y="406" width="80" height="26" fill="#ffb300"/>
<polygon fill="#ff5f00" points="503.5,383.5 513.5,381 521,376 528.5,374.8 536,376 543.5,382.2 548.5,391 552.2,399.8 558.5,403.5 568.5,404.8 578.5,409.8 588.5,416 598.5,419.8 608.5,421 618.5,422.2 626,422.2 633.5,420.5 641,422.2 648.5,424.8 658,429.8 661,431 661,343.5 503.5,343.5"/>
</g>
<g clip-path="url(#c14)" shape-rendering="crispEdges">
<rect x="244" y="400" width="168" height="50" fill="#f2ff00"/>
<polygon fill="#ffb300" points="241.5,405.5 254,405.5 263.9,406.2 268.9,408 266.4,410.5 256.5,411.2 241.5,411.2"/>
<polygon fill="#ffb300" points="277.6,407.5 286.4,405.5 295.1,405.5 303.8,408.7 311.3,413.7 318.8,418.7 328.7,423.7 338.7,427.4 348.7,429.9 358.7,429.4 368.6,427.9 378.6,429.4 393.6,429.9 413.5,429.9 413.5,452.3 388.6,452.3 383.6,448.6 376.1,444.9 368.6,441.1 356.2,442.4 348.7,439.9 343.7,436.1 336.2,432.4 331.2,427.4 323.8,426.2 313.8,423.7 303.8,421.2 293.9,415 281.4,410"/>
<polygon fill="#ffb300" points="383.6,398.8 393.6,400 403.5,401.2 413.5,402 413.5,398.8"/>
<polygon fill="#aae60a" points="320,398.8 323.8,401.2 331.2,405 338.7,407.5 348.7,411.2 356.2,415 363.6,417.4 373.6,417.4 383.6,417.4 393.6,417.9 403.5,416.9 406,415 403.5,413.7 396,411.2 391.1,410.5 383.6,411.2 376.1,410 371.1,407.5 363.6,403.7 356.2,400 353.7,398.8"/>
<polygon fill="#aae60a" points="241.5,427.9 254,428.7 263.9,427.9 273.9,426.9 283.9,426.2 293.9,426.9 303.8,429.4 313.8,431.9 323.8,434.9 331.2,437.4 338.7,440.4 346.2,444.4 353.7,448.6 357.4,452.3 241.5,452.3"/>
<polygon fill="#55cc11" points="241.5,441.9 249,439.4 256.5,437.9 268.9,437.4 278.9,438.6 288.9,440.4 301.3,441.9 311.3,443.6 321.3,444.4 331.2,445.4 335.7,447.4 332.5,451.1 241.5,452.3"/>
<polygon fill="#00aa11" points="263.9,447.4 271.4,444.9 281.4,443.6 293.9,444.4 301.3,447.4 305.1,451.1 263.9,451.1"/>
</g>
<g clip-path="url(#c15)" shape-rendering="crispEdges">
<rect x="76" y="412" width="110" height="98" fill="#f2ff00"/>
<polygon fill="#ffb300" points="74.4,430.8 78.9,431.6 85.8,433.2 92.3,434 97.2,436.5 102.1,434.8 108.6,436.5 115.2,434 120.1,434.8 125,437.3 131.5,439.7 138,438.9 144.5,438.1 151.1,437.3 157.6,438.9 162.5,442.2 165,446.3 165.8,452.8 167.4,458.5 170.7,461 174.7,461 177.2,456.1 179.6,450.4 182.1,455.3 184.5,459.3 187,460.1 187,410.4 74.4,410.4"/>
<polygon fill="#aae60a" points="74.4,438.1 78.9,438.9 82.5,441.4 85.8,443.8 92.3,446.3 98.8,445.5 105.4,444.6 111.9,443.8 118.4,445.5 125,444.6 129.9,447.1 133.1,451.2 133.9,455.3 132.3,459.3 128.2,457.7 123.3,456.1 118.4,458.5 115.2,461 111.9,464.2 108.6,469.1 105.4,471.6 100.5,473.2 98,477.3 96.4,482.2 94,485.4 93.1,490.3 94,496.9 94.8,509.9 74.4,509.9"/>
<polygon fill="#aae60a" points="136.4,445.9 141.3,445.9 140.5,447.6 137.2,447.6"/>
<polygon fill="#aae60a" points="146.2,446.3 150.3,446.3 150.8,453.6 146.5,454.1"/>
<polygon fill="#aae60a" points="154.3,509.9 154.3,496.9 156,492.8 160.9,491.2 167.4,490.3 173.9,488.7 178.8,486.3 183.7,485.4 187,484.6 187,509.9"/>
</g>
<g clip-path="url(#c16)" shape-rendering="crispEdges">
<rect x="186" y="412" width="110" height="98" fill="#f2ff00"/>
<polygon fill="#ffb300" points="184.4,410.4 225.2,410.4 218.6,415.3 215.4,420.2 214.6,426.7 216.2,433.2 220.3,438.1 223.5,443 228.4,447.9 233.3,452 235,456.1 234.1,459.3 228.4,457.7 221.9,456.1 215.4,456.9 210.5,457.7 205.6,458.5 200.7,459.3 194.2,458.5 189.3,459.3 184.4,460.1"/>
<polygon fill="#ffb300" points="290.5,410.4 297,410.4 297,415.3 292.9,415.3"/>
<polygon fill="#aae60a" points="184.4,483.8 190.9,487.1 194.2,485.4 199.1,478.9 202.3,476.5 205.6,480.5 208,485.4 210.5,482.2 212.9,479.7 215.4,483.8 221.9,483.8 228.4,483.8 233.3,481.4 238.2,478.1 243.1,476.5 247.2,474.8 297,474.8 297,513.2 184.4,513.2"/>
<polygon fill="#aae60a" points="297,427.5 277.4,428.3 257.8,427.5 238.2,428 230.1,428.6 226.8,430.8 226,434.8 227.6,439.7 230.9,444.6 235,448.7 241.5,451.2 248,452 254.5,452.8 259.4,454.8 263.5,458.5 266,462.6 266.8,467.5 266,474.8 297,474.8"/>
</g>
<g clip-path="url(#c17)" shape-rendering="crispEdges">
<rect x="226" y="432" width="70" height="78" fill="#aae60a"/>
<polygon fill="#f2ff00" points="224.8,439.2 226,440.2 229.6,444 233.2,447.6 238,450 245.2,451 252.4,452.4 255.4,454.8 256,458.4 255,463.2 253,466.8 250.6,470.4 248.8,474 247,478.8 240.4,480.6 235.6,481.2 233.2,483 224.8,483.8"/>
<polygon fill="#ffb300" points="224.8,450 230.8,451 234.4,453.6 235.4,459.6 233.2,461.4 224.8,460.8"/>
<polygon fill="#55cc11" points="245.2,444 247.6,440.4 252.4,438 259.6,437 268,437.4 276.4,438 286,438.6 293.2,439.8 300.4,441.6 307.6,442.6 307.6,510 233.2,510 233.2,486 235.6,481.8 240.4,480 247,478.2 250,472.8 253,468 256,464.4 259.6,462.9 264.4,462 267.4,460.2 266.8,456 265,451.8 261.4,448.6 256,447.4 250,447 245.8,446.4"/>
<polygon fill="#00aa11" points="265.6,447.6 269.2,445.2 276.4,443.8 286,443.4 295.6,444.6 302.8,447.6 304,451.2 300.4,454.8 293.2,456.6 286,457.4 278.8,456 274,453.6 269.2,451.2"/>
<polygon fill="#007766" points="295,453 298,453 298,453.9 295,453.9"/>
<polygon fill="#00aa11" points="247,510 247,484.8 248.2,480 251.2,475.2 254.8,471 258.4,468 263.2,466.2 269.2,465.6 276.4,466.2 283.6,467.4 290.8,468.6 298,470.4 307.6,471.6 307.6,510"/>
<polygon fill="#007766" points="255.4,510 255.4,482.4 256.6,478.8 259,475.2 262,472.8 265.6,471 270.4,470.1 276.4,470.4 283.6,471.3 290.8,472.2 298,473.4 307.6,474 307.6,510"/>
<polygon fill="#0033bb" points="263.2,510 263.2,481.2 264.1,478.2 266.2,475.8 269.2,474.2 274,473.7 280,474 286,474.6 293.2,475.4 300.4,476.1 307.6,476.6 307.6,510"/>
<polygon fill="#0000ff" points="266.2,510 266.2,480 267.4,477.6 269.8,476.1 274,475.4 280,475.8 286,476.4 293.2,477.3 300.4,478.2 307.6,478.5 307.6,510"/>
<polygon fill="#5555ff" points="270.4,510 270.4,482.4 271.3,479.4 273.4,477.6 277.6,476.6 282.4,477 287.2,478.2 293.2,479.4 298,480 302.8,480.6 307.6,480.6 307.6,510"/>
<polygon fill="#aaaaff" points="276.1,510 276.4,486 277.3,480 278.8,476.6 280.6,475.4 282.4,477.6 284.8,482.4 286,484.8 290.8,484.5 295.6,483.8 298,483.3 302.8,483.3 307.6,483.3 307.6,510"/>
<polygon fill="#ffffff" points="277.8,510 277.8,484.8 279,480.6 280,477.6 281.4,481.2 283,484.8 283.3,510"/>
<polygon fill="#5555ff" points="285.4,510 285.4,488.4 288,487.8 288,510"/>
<polygon fill="#ffffff" points="298,510 298,486 300.4,485 307.6,485 307.6,510"/>
</g>
<g clip-path="url(#c18)" shape-rendering="crispEdges">
<rect x="296" y="432" width="80" height="78" fill="#f2ff00"/>
<polygon fill="#ffb300" points="338,430.8 341.6,433.8 346.4,436.2 348.8,438 353.6,439.4 360.8,440.6 368,441 377.6,440.4 377.6,430.8"/>
<polygon fill="#aae60a" points="294.8,430.8 308,430.8 312.8,433.2 320,435 327.2,436.2 334.4,438 341.6,441 347.6,444 353.6,447.6 358.4,451.2 363.2,454.2 360.8,455.4 356,455.4 351.2,455 346.4,455.4 341.6,456.6 335.6,458.4 329.6,460.2 324.8,461.4 323,462 326,463.4 332,465 336.8,466.2 341.6,468 346.4,468.6 353.6,468.6 360.8,468.6 368,468.9 377.6,468.6 377.6,516 294.8,516"/>
<polygon fill="#55cc11" points="294.8,439.2 300.8,439.8 308,441 315.2,442.2 322.4,443 329.6,443.8 334.4,445 336.2,446.4 334.4,448.2 330.8,450 326,451.8 320,453.6 314,455.4 310.4,457.8 309.2,460.8 310.4,463.8 314,466.2 320,467.7 327.2,468.6 334.4,469.4 341.6,470.4 348.8,470.6 356,470.6 363.2,471 370.4,471 377.6,471 377.6,516 294.8,516"/>
<polygon fill="#00aa11" points="294.8,444.6 298.4,445.2 302,446.4 304.4,450 305.6,453.6 303.2,456 299.6,457.8 294.8,458.4"/>
<polygon fill="#00aa11" points="294.8,466.8 299.6,468 304.4,469.2 309.2,470.1 315.2,470.6 322.4,471.3 329.6,472.2 336.8,472.8 344,473.4 351.2,473.4 358.4,473.4 365.6,474 372.8,474 377.6,474 377.6,516 294.8,516"/>
<polygon fill="#007766" points="294.8,471.6 300.8,472.8 308,473.7 315.2,474.6 322.4,475.4 329.6,476.4 336.8,478.2 341.6,479.4 346.4,480 353.6,480.2 360.8,480.2 368,480.6 377.6,480.6 377.6,516 294.8,516"/>
<polygon fill="#0033bb" points="294.8,475.2 300.8,475.8 308,476.6 315.2,477.3 322.4,478.2 329.6,479.4 336.8,480.9 341.6,482.1 346.4,482.6 353.6,483 360.8,483 368,483.3 377.6,483.3 377.6,516 294.8,516"/>
<polygon fill="#0000ff" points="294.8,477.6 300.8,478.2 308,478.8 315.2,479.4 322.4,480 329.6,481.2 335.6,482.4 340.4,483.8 344,484.8 377.6,484.8 377.6,516 294.8,516"/>
<polygon fill="#5555ff" points="294.8,479.7 300.8,480.2 308,480.9 315.2,481.4 322.4,482.1 329.6,483 334.4,483.8 338,484.8 341.6,485.4 341.6,516 294.8,516"/>
<polygon fill="#aaaaff" points="294.8,482.1 300.8,482.4 308,482.9 315.2,483.3 322.4,483.8 329.6,484.5 334.4,485.4 335.6,487.2 335.6,516 294.8,516"/>
<polygon fill="#ffffff" points="294.8,484.5 300.8,484.8 308,485 315.2,485.4 322.4,485.7 329.6,486.2 333.2,487.2 333.2,516 294.8,516"/>
<polygon fill="#aaaaff" points="311.6,485.4 314,485.4 314,510 311.6,510"/>
<polygon fill="#0033bb" points="352.4,484.8 357.8,484.8 357.8,510 352.4,510"/>
<polygon fill="#0033bb" points="369.8,484.8 377.6,484.8 377.6,510 369.8,510"/>
<polygon fill="#aaaaff" points="365,485.4 365.8,485.4 365.8,492.6 365,492.6"/>
</g>
<g clip-path="url(#c19)" shape-rendering="crispEdges">
<rect x="376" y="432" width="80" height="78" fill="#f2ff00"/>
<polygon fill="#ffb300" points="374.8,430.8 374.8,442.8 379.6,443.4 383.2,445.8 386.8,448.8 391.6,451.2 397.6,452.4 402.4,454.2 406,456.6 410.8,457.2 414.4,459 418,461.4 421,464.4 425.2,466.2 431.2,466.8 436,468 440.8,468.6 445.6,468 450.4,469.2 454,467.4 454.6,463.2 452.8,459.6 450.4,457.2 448,454.8 446.2,450 446.8,445.2 448.6,441.6 451.6,439.8 457.6,439.2 457.6,430.8"/>
<polygon fill="#f2ff00" points="448,430.8 450.4,433.2 455.2,433.8 457.6,433.2 457.6,430.8"/>
<polygon fill="#aae60a" points="374.8,469.2 380.8,468.9 388,469.2 395.2,469.4 402.4,468.6 408.4,467.7 414.4,468 420.4,469.4 426.4,471.6 432.4,473.4 438.4,474.6 445.6,475.2 452.8,475.8 457.6,476.1 457.6,516 374.8,516"/>
<polygon fill="#55cc11" points="374.8,473.4 383.2,473.7 390.4,474 397.6,473.7 404.8,472.8 410.8,472.2 416.8,473.4 422.8,475.2 428.8,477.3 433.6,478.8 438.4,478.2 443.2,477.6 450.4,478.2 457.6,478.8 457.6,516 374.8,516"/>
<polygon fill="#00aa11" points="374.8,477.6 383.2,478.2 390.4,478.5 397.6,478.2 404.8,477.3 410.8,477 416.8,478.2 422.8,480 428.8,481.8 433.6,483 437.2,483.6 439.6,482.4 443.2,481.8 448,483 451.6,484.8 451.6,510 374.8,510"/>
<polygon fill="#007766" points="374.8,481.4 383.2,482.1 390.4,482.4 397.6,482.1 404.8,481.4 410.8,481.2 416.8,482.1 424,483.6 430,484.5 436,484.8 438.4,486 443.2,485.4 446.2,486 446.2,510 374.8,510"/>
<polygon fill="#0033bb" points="374.8,483.8 383.2,484.2 390.4,484.5 400,483.8 407.2,483.3 414.4,483.8 421.6,484.5 431.8,484.8 431.8,510 374.8,510"/>
<polygon fill="#0000ff" points="391,484.8 415.6,484.8 415.6,510 391,510"/>
<polygon fill="#5555ff" points="403,485.4 410.2,485.4 410.2,510 403,510"/>
<polygon fill="#007766" points="425.8,485.4 427,485.4 427,493.8 425.8,493.8"/>
</g>
<g clip-path="url(#c20)" shape-rendering="crispEdges">
<rect x="456" y="432" width="80" height="78" fill="#f2ff00"/>
<polygon fill="#ffb300" points="454.8,430.8 454.8,439.2 460.8,439.4 468,439.8 475.2,441.4 482.4,442.2 489.6,443.4 494.4,445.8 498,448.8 502.8,451.8 507.6,454.2 511.2,453.6 516,451.8 520.8,451.2 528,451.8 532.8,451.2 537.6,450 537.6,430.8"/>
<polygon fill="#f2ff00" points="454.8,430.8 485.4,430.8 484.2,433.4 480,435 474,435.8 468,435.6 462,435.8 454.8,436.6"/>
<polygon fill="#aae60a" points="457.2,453.6 459.6,450.6 463.2,449 468,449.8 472.8,451.8 477.6,454.2 482.4,455.4 487.2,456.6 492,459 496.8,462 501.6,464.1 506.4,464.4 511.2,462.6 516,460.8 520.8,460.5 525.6,461.4 529.2,463.2 532.8,465.6 537.6,468 537.6,516 454.8,516 454.8,476.6 460.8,476.1 465.6,474.6 468,471.6 468.6,466.8 466.8,463.2 463.2,459.6 459.6,456.6"/>
<polygon fill="#55cc11" points="476.4,462 480,461 484.8,461.4 489.6,462.6 493.2,465 496.8,468 500.4,471 504,472.2 508.8,471.6 512.4,469.2 516,467.7 519.6,468.6 522,471.6 523.2,475.2 528,477.6 532.8,480 537.6,482.4 537.6,516 454.8,516 454.8,484.8 460.8,485.4 468,486 474,484.8 477.6,482.4 478.8,477.6 478.2,468"/>
<polygon fill="#00aa11" points="486,510 486,488.4 487.8,483.6 490.8,480 494.4,478.2 499.2,477 504,476.6 508.8,476.4 513.6,475.2 516,474 519.6,475.8 521.4,480 522,486 522,510"/>
</g>
<g clip-path="url(#c21)" shape-rendering="crispEdges">
<rect x="536" y="432" width="80" height="78" fill="#aae60a"/>
<polygon fill="#f2ff00" points="534.8,430.8 534.8,468 538.4,469.2 543.2,470.4 549.2,469.2 550.4,465.6 551.6,464.4 560,463.8 567.2,464.1 572,465 573.2,462 572.6,456 574.4,453.6 579.2,452.4 581.6,450 583.4,446.4 585.2,450 586.4,453 591.2,454.2 596,454.8 599.6,456 601.4,459.8 603.2,459 605,459.3 606.8,462 608,468 609.2,470.4 612.8,471 617.6,470.6 617.6,430.8"/>
<polygon fill="#aae60a" points="559.4,447 564.2,445.8 569,448.2 572,451.2 573.2,456 572,464.4 560,463.8 551.6,464.4 551,462.6 555.8,460.2 558.8,456 558.8,451.2"/>
<polygon fill="#ffb300" points="548,430.8 551.6,433.2 557.6,435.6 564.8,438 572,440.4 578,442.2 584,444 590,445.8 596,447.6 600.8,448.2 605.6,447 610.4,445.2 614,442.8 614.6,439.2 617.6,438 617.6,430.8"/>
<polygon fill="#ffb300" points="534.8,438 537.2,439.2 540.8,442.2 543.2,445.2 543.8,448.8 542,451.2 538.4,451.8 534.8,451.2"/>
<polygon fill="#55cc11" points="534.8,484.8 540.8,484.8 546.8,485.4 550.4,488.4 552.2,492 552.8,487.2 556.4,486 562.4,486.6 567.2,488.4 570.8,484.8 573.2,480 575.6,478.2 578,480 579.8,484.8 581,489.6 581.6,494.4 581.6,510 534.8,510"/>
<polygon fill="#000000" points="612.8,509.4 616.4,506.6 616.4,509.4"/>
</g>
<g clip-path="url(#c22)" shape-rendering="crispEdges">
<rect x="616" y="432" width="44" height="78" fill="#f2ff00"/>
<polygon fill="#ffb300" points="592.8,430.8 592.8,447 597.6,447.6 602.4,447 606,445.8 610.8,446.4 615.6,448.2 620.4,447.6 625.2,448.8 630,450 634.8,451.2 639.6,450 644.4,450 649.2,451.8 654,453 657.6,454.8 661.2,454.8 661.2,430.8"/>
<polygon fill="#aae60a" points="592.8,454.2 596.4,454.8 599.4,457.2 601.2,460.8 603,460.2 606,459 609,459.6 610.8,463.2 612,466.8 613.2,468 618,467.4 622.8,465.6 625.2,466.8 627.6,469.8 632.4,470.4 636,471.6 639,474 640.8,477.6 641.4,482.4 641.4,489.6 636,489 630,494.4 622.8,501.6 619.2,505.2 612,507.6 612,511.2 592.8,511.2"/>
<polygon fill="#f2ff00" points="611.4,466.8 612,460.8 614.4,458.4 618,458.1 621,460.2 622.8,464.4 622.2,466.2 618,467.4 613.2,468"/>
<polygon fill="#000000" points="612,511.2 619.2,505.4 622.8,502.2 626.4,499.2 630,495 633.6,491.4 636,489.3 639.6,490.2 642,491 643.8,494.4 645,497.7 646.8,498.2 649.2,496.8 650.4,493.2 651.6,489.6 653.4,486 655.2,484.2 657,484.8 659.4,488.4 661.2,489.6 661.2,511.2"/>
</g>
<g clip-path="url(#c23)" shape-rendering="crispEdges">
<rect x="196" y="448" width="60" height="61" fill="#f2ff00"/>
<polygon fill="#ffb300" points="195.1,447.1 225.7,447.1 227.5,450.7 232,452.5 234.7,455.2 235.6,459.7 233.8,461.5 230.2,460.6 225.7,458.8 221.2,457.9 216.7,459.7 211.3,458.8 205,459.2 200.5,459.7 195.1,459.2"/>
<polygon fill="#aae60a" points="225.7,447.1 229.3,448.4 233.8,449.3 239.2,449.8 243.8,450 250,451.6 254,453 255.5,454.6 255.8,458.8 256,462.8 258.9,462.8 258.9,447.1"/>
<polygon fill="#aae60a" points="195.1,479.7 198.7,478.6 202.3,475.9 205,481.3 207.2,487.6 208.6,484.9 209.5,482.2 210.4,477.7 211.3,474.1 212.2,471.6 218.5,470.9 225.7,470.5 233.8,470.9 236,469.6 239.2,468.2 242.8,466.9 246.4,466.4 250,466 253.6,465.3 255.4,464 256,462.8 258.9,462.8 258.9,510.9 195.1,510.9"/>
<polygon fill="#55cc11" points="233.8,510.9 233.8,484 234.7,481.3 236.5,479.5 239.2,477.7 242.8,475.4 246.4,473.6 250,472.3 253.6,470.9 258.9,469.6 258.9,510.9"/>
<polygon fill="#00aa11" points="247.3,510.9 247.3,485.8 248.2,482.2 250,479.5 252.7,477.7 255.4,476.8 258.9,475.9 258.9,510.9"/>
<polygon fill="#007766" points="254.9,510.9 254.9,484 256,482.2 258.9,481.3 258.9,510.9"/>
</g>
</g>
<g id="lines" fill="none" stroke="#000" stroke-width="1" shape-rendering="crispEdges">
<ellipse cx="504" cy="408" rx="3.8" ry="15.5"/>
<ellipse cx="638.5" cy="349" rx="3.8" ry="19.5"/>
<ellipse cx="638.8" cy="348" rx="1.2" ry="6.5"/>
<path d="M80.9 461 L81.7 456.1 L83.3 454.1 L85.8 454.8 L86.6 451.2 L87.4 447.1 L89.9 446.3 L93.1 446.6 L94.3 451.2 L95.6 457.7 L96.4 462.6 L96.4 469.1 L95.3 473.2 L93.1 477.3 L91.5 480.5 L89.9 483.8 L88.7 480.5 L87.4 476.5 L87.1 471.6 L85.8 474 L85 477 L83.3 477.3 L82.2 474.8 L81.2 470.8 L80.6 465.9Z"/>
<path d="M87.4 451.2 L89.1 449.5 L91.5 450.4 L92 454.4 L91.5 460.1 L90.4 465 L88.7 461 L87.8 456.1Z"/>
<path d="M113.9 438.1 L116 442.2 L116.8 448.7 L116 455.3 L114.4 460.1 L112.7 456.1 L111.4 449.5 L111.9 442.2Z"/>
<path d="M112.2 443.8 L113.9 443.8 L113.9 450.4 L112.6 450.4Z" fill="#000"/>
<path d="M114.7 462.6 L116.8 465.9 L118.1 472.4 L117.1 479.7 L115.2 484.6 L112.7 483.8 L111.6 478.1 L112.2 470.8 L113.2 465.9Z"/>
<path d="M113.5 467.5 L115.5 467.5 L115.5 471.6 L113.9 471.6Z" fill="#000"/>
<path d="M150.3 492.8 L149.4 487.1 L149.8 480.5 L151.1 474.8 L152.7 470.4 L155.2 469.1 L156.8 470.8 L157.9 476.5 L159.2 482.2 L159.6 487.1 L158.4 492.8 L156.8 490.3 L155.6 486.3 L153.5 485.4 L151.9 487.9 L151.1 491.2Z"/>
<ellipse cx="202.3" cy="463.4" rx="1" ry="4.1"/>
<path d="M212.9 454.4 L214.6 459.3 L215.4 467.5 L216.2 477.3 L215.4 483.8 L213.4 480.5 L211.8 474 L210.8 465.9 L211.3 458.5Z"/>
<path d="M217 462.6 L219.5 465.9 L221.1 474 L221.6 482.2 L220.3 484.6 L218.6 478.9 L217.3 470.8Z"/>
<path d="M222.7 462.6 L226.8 461 L231.7 461.3 L234.1 464.2 L235 472.4 L234.1 480.5 L231.7 484.6 L227.6 485.4 L224.4 483 L222.7 475.7 L222.2 467.5Z"/>
<path d="M225.2 465.9 L227.6 466.7 L230.1 469.9 L228.8 474 L226 475.7 L224.8 470.8Z"/>
<ellipse cx="243.8" cy="472.7" rx="4.1" ry="11.8"/>
<ellipse cx="242.6" cy="469.5" rx="0.8" ry="0.8"/>
<path d="M256.2 465.9 L257.8 462.3 L261.9 461 L265.2 462.6 L267.6 461 L274.1 461.3 L276.6 464.2 L277.4 472.4 L277.1 480.5 L275 483.8 L267.6 484.1 L265.2 482.2 L262.7 484.1 L257.8 483.8 L256.2 478.9Z"/>
<path d="M260.8 469.5 L262.4 469.5"/>
<path d="M264.7 469.6 L266.3 469.6"/>
<path d="M267.6 469.3 L269.6 469.3"/>
<path d="M303.2 475.4 L303.4 472.2 L305 469.8 L308 469.2 L310.4 470.4 L312.8 469.4 L366.8 469.4 L369.2 470.6 L371.6 469.4 L387.2 469.4 L389 471.6 L390.2 477.6 L389.6 482.4 L387.8 484.8 L380 485 L372.8 484.5 L368 484.8 L363.2 484.2 L353.6 484.8 L344 484.8 L337.7 484.8 L310.4 484.5 L305.6 483.6 L303.8 481.2 L303.2 477.6Z"/>
<ellipse cx="362.2" cy="477.6" rx="2.6" ry="1.2"/>
<ellipse cx="397.3" cy="477.3" rx="4.4" ry="8"/>
<path d="M395.8 477.6 L398.8 477.6"/>
<path d="M384.4 477.6 L386.2 477.6"/>
<rect x="302.5" y="475.5" width="35.3" height="20"/>
<path d="M511.8 492.6 L448.8 492.6 L440.4 492 L438 488.4 L436.8 484.8 L438 480 L439.8 477.6 L456 477.3 L466.2 477.3 L467 472.8 L468 469.8 L494.4 469.4 L495.3 473.4 L496.8 477.3 L522.6 477.3 L523.8 473.4 L525.3 470.4 L527 471 L528.2 474.6 L529.4 477.3 L532.5 477.3 L533.7 473.4 L535.2 470.4 L537.6 469.4 L540 470.4 L541.4 465.6 L542.4 462.6 L547.8 462 L549.6 457.8 L550.8 456 L552 457.8 L553.2 462 L554.4 464.4"/>
<path d="M452.2 484.5 L456 483.8 L463.2 481.4 L468.6 480 L470.4 476.4 L474 473.4 L481.2 472.8 L484.2 474.9 L488.4 477.3 L492 479 L496.8 479.6 L504 480.2 L511.2 480.8 L516 480.8 L520.8 480.2 L523.2 481.4 L524.1 483.6 L523.2 486 L518.4 487.8 L511.8 488.4 L508.8 489 L501.6 489.3 L494.4 489.6 L487.2 490.2 L483.6 488.4 L481.2 485.4 L477.6 486 L475.2 483.6 L471.6 480.6 L469.8 481.4 L469 485.4 L468 489.3 L463.2 489.3 L456 487.2Z"/>
<ellipse cx="519" cy="484.8" rx="3.8" ry="3.8"/>
<rect x="511.5" y="483.5" width="36" height="20.1"/>
<rect x="537.4" y="444.2" width="35.2" height="20.3"/>
<path d="M552.1 465.6 L551.2 468.8 L549 471.5 L546.3 474.6 L545.8 477.8 L547.6 480.9 L549.9 482.3 L552.6 480.5 L555.7 479.1 L558 478.2 L559.3 479.6 L561.6 480.5 L563.8 479.1 L566.1 476.9 L568.8 475.1 L571 473.3 L571.9 470.6 L571.9 467 L570.6 465.6 L567 464.7 L562.5 464.3 L558 464.3 L554.4 464.7Z"/>
<ellipse cx="537.8" cy="476.9" rx="1.3" ry="1.4"/>
<path d="M572.6 454.4 L580.9 454.4 L582.3 449.9 L583.6 446.3 L585 449.9 L586 454.4 L599.4 454.4 L599.8 462.5 L599.4 469.7 L598.5 475.1"/>
<path d="M553.5 500 L553.5 484.5 L571.9 484.1 L572.8 478.7 L574.2 477.8 L580.5 477.6 L582.3 479.6 L584.1 484.1 L585.4 482.3 L586.8 477.8 L588.1 476 L589.5 480.5 L590.8 486.8 L592.2 491.3 L593.2 492.6 L594 489.5 L594.9 485 L595.8 480.5 L597.1 477.8 L598.5 476 L600 475.5 L600.4 470.6"/>
<path d="M574.2 460.2 L576 458.4 L579.6 457.5 L582.3 456.6 L584.1 455.7 L585.9 456.6 L588.6 458 L591.3 457.5 L594 456.6 L595.3 458 L596.2 461.6 L596.7 466.1 L596.2 470.6 L595.3 475.1 L594 478.7 L593.1 481.4 L591.7 479.6 L590.8 476 L589.9 471.5 L589 467.9 L588.1 467 L587.2 469.7 L586.3 474.2 L585.4 478.7 L584.5 482.3 L583.6 485 L582.3 482.3 L580.9 477.8 L580 473.3 L578.7 470.6 L576.9 468.8 L575.1 467 L574 464.3Z"/>
<path d="M549 469.2 L540 469.2 L536.4 469.7"/>
<rect x="615.5" y="430.4" width="35.3" height="19"/>
<path d="M603.6 491.6 L601.6 489.4 L600.5 485.8 L600.7 483.1 L601.6 477.7 L601.8 470.5 L602 461.5 L602.7 453.4 L603.4 448 L604.5 446.4 L613.5 446.4 L614.2 443 L614.4 439.4 L615.4 438.9 L623.4 438.9"/>
<path d="M607 457.9 L605.6 460.6 L605 466 L605.4 472.3 L607 475.4 L608.6 473.6 L609.5 469.6 L609.7 464.2 L608.8 459.7Z"/>
<path d="M605.6 458.8 L605.9 453.4 L606.7 450.2 L609 448.4 L612.6 449.3 L615.4 449.1 L623.4 449.3 L624.7 452 L626.1 453.8 L627 452 L628.8 451.1 L629.2 454.7 L628.8 458.7 L629.7 455.6 L631 452 L632.8 450.6 L634.2 450.2 L635.1 452 L636.8 454.7 L638.6 457.4 L640 460.1 L640.4 463.6 L639.1 466.8 L636.8 468.1 L634.2 467.2 L631.5 465.4 L629.7 463.2 L628.3 464.5 L627.4 467.2 L626.1 471.7 L624.3 474.4 L622.9 473.5 L622 468.1 L621.6 462.7 L620.7 459.6 L618.9 459.2 L617.5 460.9 L618.4 464.5 L619.3 469.9 L618.4 473.5 L617.5 469.9 L616.6 464.5 L615.7 460.1 L614.4 458.3 L612.6 459.2 L611.2 461.8 L610.8 466.3 L611.2 471.7 L611.7 478.9 L611.5 486.7 L612.4 490.3 L613.7 492.5 L615.1 491.2 L616 488.5 L617.3 490.3 L619.6 492.1 L622.3 492.5 L624.5 491.2 L625.4 487.6 L625.9 484 L626.6 479.5 L627.2 477.5 L640.3 477.2 L643.9 477 L644.8 474.1 L646.1 470.5 L647.5 469.6 L648.4 471.4 L649.3 474.1 L650.2 476.8 L651.1 474.1 L652 470.5 L653.3 469.6 L657.4 469.6"/>
<path d="M605.9 484.4 L607.9 484.9 L609.7 483.1 L610.6 480.4 L610.8 475"/>
<path d="M598 455.2 L599.3 457 L600 462.4 L599.8 469.6 L599.3 474.1 L598 475.9"/>
<path d="M646.6 461.5 L647 457.9 L648.4 455.2 L650.2 453.4 L651.2 455.2 L651.8 459.7 L651.1 464.2 L649.3 466.4 L647.5 465.5Z"/>
<path d="M652.9 461 L654.2 459.7 L655.6 461 L654.7 462.8 L653.3 462.4Z"/>
<path d="M628.4 454.7 L629.7 456.5 L629.7 459.7 L628.8 459.7 L628.1 456.5Z" fill="#000"/>
<path d="M617.8 477.3 L618.7 477.3 L618.7 478.2 L617.8 478.2Z" fill="#000"/>
<path d="M636.8 449.3 L637.7 452 L639.5 453.8 L641.3 452 L643.1 453.8 L644.9 452 L646.7 452.9 L649 449.3"/>
<path d="M650.8 446.6 L652.1 447 L653 450.2 L653.9 453.8 L657.5 454.2"/>
</g>
<g>
<text class="lab" text-anchor="middle" x="319.6" y="491.4">.001</text>
<text class="lab" text-anchor="middle" x="529.8" y="499.4">.001</text>
<text class="lab" text-anchor="middle" x="555.0" y="460.3">.001</text>
<text class="lab" text-anchor="middle" x="633.7" y="445.8">.001</text>
</g>
<!-- frame -->
<rect x="79" y="96" width="579" height="413" fill="none" stroke="#000" stroke-width="2"/>
<g class="tk">
<path d="M79 126H97M79 165H97M79 203H97M79 241H97M79 279H97M79 317H97M79 356H97M79 394H97M79 432H97M79 470H97"/>
<path d="M131.6 509V491.2M184.3 509V491.2M236.9 509V491.2M289.5 509V491.2M342.2 509V491.2M394.8 509V491.2M447.5 509V491.2M500.1 509V491.2M552.7 509V491.2M605.4 509V491.2"/>
</g>
<!-- title box -->
<rect x="212" y="95.5" width="446.5" height="24.5" fill="#fff" stroke="#000" stroke-width="1"/>
<path d="M658 95V121" stroke="#000" stroke-width="2"/>
<text class="t16" x="215.5" y="113.3" textLength="438.5" lengthAdjust="spacingAndGlyphs">Cloud + Ice water mixing ratio Contours: .001 to .1 by .099</text>
<g class="t16" text-anchor="end">
<text transform="translate(67.4 132.4) scale(1.07 1)">10.0</text>
<text transform="translate(67.4 170.5) scale(1.07 1)">9.0</text>
<text transform="translate(67.4 208.9) scale(1.07 1)">8.0</text>
<text transform="translate(67.4 247.1) scale(1.07 1)">7.0</text>
<text transform="translate(67.4 285.4) scale(1.07 1)">6.0</text>
<text transform="translate(67.4 323.6) scale(1.07 1)">5.0</text>
<text transform="translate(67.4 361.9) scale(1.07 1)">4.0</text>
<text transform="translate(67.4 400.1) scale(1.07 1)">3.0</text>
<text transform="translate(67.4 438.4) scale(1.07 1)">2.0</text>
<text transform="translate(67.4 476.6) scale(1.07 1)">1.0</text>
<text transform="translate(67.4 514.9) scale(1.07 1)">0.0</text>
</g>
<g class="t16" text-anchor="middle">
<text transform="translate(79.4 533.2) scale(1.04 1)">-20.1</text>
<text transform="translate(132 533.2) scale(1.04 1)">-16.9</text>
<text transform="translate(184.5 533.2) scale(1.04 1)">-13.8</text>
<text transform="translate(237 533.2) scale(1.04 1)">-10.6</text>
<text transform="translate(289.7 533.2) scale(1.04 1)">-7.4</text>
<text transform="translate(342.3 533.2) scale(1.04 1)">-4.2</text>
<text transform="translate(395 533.2) scale(1.04 1)">-1.1</text>
<text transform="translate(447.6 533.2) scale(1.04 1)">2.1</text>
<text transform="translate(500.2 533.2) scale(1.04 1)">5.3</text>
<text transform="translate(552.8 533.2) scale(1.04 1)">8.4</text>
<text transform="translate(605.5 533.2) scale(1.04 1)">11.6</text>
<text transform="translate(658 533.2) scale(1.04 1)">14.8</text>
</g>
<text class="t21" text-anchor="middle" transform="translate(368.7 563.4) scale(1.035 1)">longitude</text>
<text class="t21" text-anchor="middle" transform="translate(17.6 301.6) rotate(-90) scale(1.02 1)">Height (km)</text>
<text class="t16" transform="translate(78.8 13.6) scale(1.02 1)">W-E at 5S</text>
<text class="sm" x="81.8" y="59.3" textLength="132.3" lengthAdjust="spacingAndGlyphs" xml:space="preserve">CO biomass burning   (ppb)</text>
<text class="sm" x="81.8" y="72" textLength="179" lengthAdjust="spacingAndGlyphs" xml:space="preserve">Cloud + Ice water mixing ratio   (g/kg)</text>
<text class="sm" x="81.8" y="83.7" textLength="22" lengthAdjust="spacingAndGlyphs">Main</text>
<text class="sm" x="534.6" y="12" textLength="123.5" lengthAdjust="spacingAndGlyphs">Init: 2018-09-25_00:00:00</text>
<text class="sm" x="525.8" y="24.3" textLength="132.3" lengthAdjust="spacingAndGlyphs">Valid: 2018-10-02_09:00:00</text>
<text class="xs" x="495.2" y="91.5" textLength="163" lengthAdjust="spacingAndGlyphs">Cross-Section: (130,374) to (454,374)</text>
<!-- label bar -->
<text class="t16" style="font-size:17.3px" x="266.8" y="610.9" textLength="204.5" lengthAdjust="spacingAndGlyphs" xml:space="preserve">CO biomass burning  (ppb)</text>
<g shape-rendering="crispEdges">
<rect x="170" y="617" width="31" height="21" fill="#ffffff"/>
<rect x="200" y="617" width="32" height="21" fill="#aaaaff"/>
<rect x="231" y="617" width="31" height="21" fill="#5555ff"/>
<rect x="261" y="617" width="32" height="21" fill="#0000ff"/>
<rect x="292" y="617" width="31" height="21" fill="#0033bb"/>
<rect x="322" y="617" width="32" height="21" fill="#007766"/>
<rect x="353" y="617" width="31" height="21" fill="#00aa11"/>
<rect x="383" y="617" width="32" height="21" fill="#55cc11"/>
<rect x="414" y="617" width="31" height="21" fill="#aae60a"/>
<rect x="444" y="617" width="32" height="21" fill="#f2ff00"/>
<rect x="475" y="617" width="31" height="21" fill="#ffb300"/>
<rect x="505" y="617" width="31" height="21" fill="#ff5f00"/>
<rect x="535" y="617" width="32" height="21" fill="#ff0800"/>
<path stroke="#000" stroke-width="1" fill="none" d="M170 617.5H567M170 637.5H567M170.5 617V638M200.5 617V638M231.5 617V638M261.5 617V638M292.5 617V638M322.5 617V638M353.5 617V638M383.5 617V638M414.5 617V638M444.5 617V638M475.5 617V638M505.5 617V638M535.5 617V638M566.5 617V638"/>
</g>
<g class="t16" text-anchor="middle">
<text transform="translate(231.5 665.4) scale(1.07 1)">.2</text>
<text transform="translate(292.5 665.4) scale(1.07 1)">1</text>
<text transform="translate(353.5 665.4) scale(1.07 1)">5</text>
<text transform="translate(414.3 665.4) scale(1.07 1)">20</text>
<text transform="translate(475 665.4) scale(1.07 1)">100</text>
<text transform="translate(536 665.4) scale(1.07 1)">500</text>
</g>
</svg>
</body>
</html>
